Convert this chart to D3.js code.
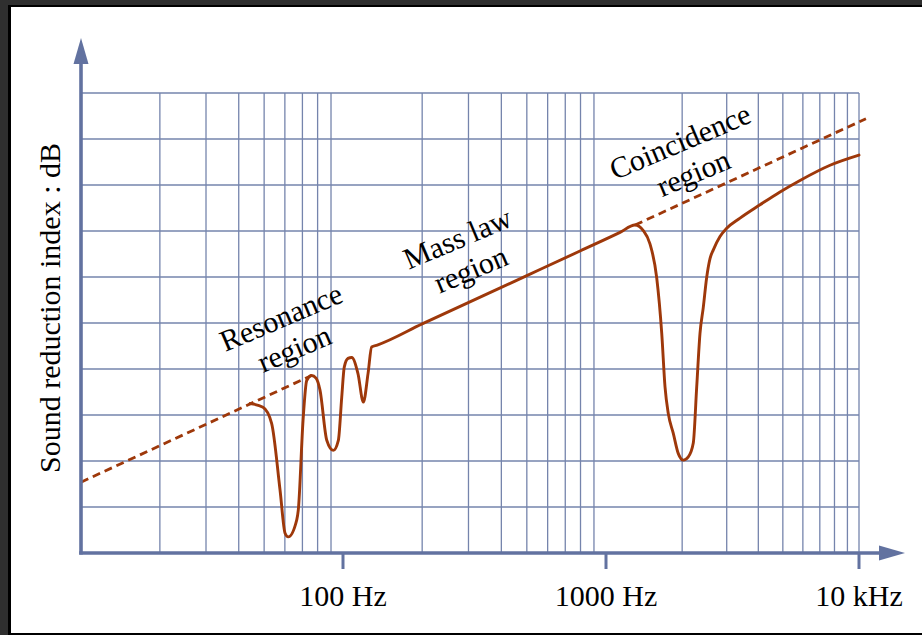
<!DOCTYPE html>
<html>
<head>
<meta charset="utf-8">
<script src="https://cdn.jsdelivr.net/npm/d3@7"></script>
<style>
  html, body { margin: 0; padding: 0; background: #2f2f2f; }
  svg { display: block; }
</style>
</head>
<body>
<svg id="chart" width="922" height="635"></svg>
<script>
// Mass law reference line (frequency in Hz, level in grid units)
const lowDashFreq = [10, 75.9];
const lowDashLevel = [1.54, 3.86];
const highDashFreq = [1302, 10650];
const highDashLevel = [7.13, 9.44];

// Measured sound reduction curve
const curveFreq = [
  44.2, 49.5, 53.4, 57.5, 60.1, 61.8, 66.6, 67.5, 70.4, 72.7, 75.9, 78.9, 81.7,
  86.7, 91.8, 96.0, 98.9, 101.1, 104.5, 107.9, 114, 119.5, 124.5, 128.5, 135,
  200, 500, 800, 1136, 1302, 1404, 1492, 1586, 1661, 1711, 1763, 1845, 1931,
  2021, 2115, 2213, 2283, 2352, 2424, 2500, 2577, 2656, 2822, 3000, 3386, 4062,
  4873, 5846, 7683, 10000
];
const curveLevel = [
  3.25, 3.17, 2.82, 1.37, 0.43, 0.35, 0.72, 0.93, 2.89, 3.75, 3.86, 3.80, 3.54,
  2.45, 2.23, 2.45, 3.39, 4.04, 4.23, 4.25, 3.90, 3.28, 3.90, 4.48, 4.52,
  4.98, 6.03, 6.57, 6.97, 7.13, 7.01, 6.72, 5.99, 4.77, 3.61, 3.03, 2.60, 2.16,
  2.02, 2.09, 2.39, 3.61, 4.77, 5.34, 5.99, 6.40, 6.59, 6.88, 7.06, 7.28, 7.57,
  7.85, 8.10, 8.43, 8.65
];

// Axis ticks and grid
const decadeFreqs = [10, 100, 1000, 10000];
const tickFreqs = [100, 1000, 10000];
const tickLabels = ["100 Hz", "1000 Hz", "10 kHz"];
const gridMultipliers = [2, 3, 4, 5, 6, 7, 8, 9];
const gridLevels = [1, 2, 3, 4, 5, 6, 7, 8, 9, 10];

// Region annotations
const regionNames = [["Resonance", "region"], ["Mass law", "region"], ["Coincidence", "region"]];
const regionFreq = [60.1, 282, 2033];
const regionLevel = [4.92, 6.64, 8.74];

const svg = d3.select("#chart");
const W = 922, H = 635;

const x = d3.scaleLog().domain(decadeFreqs).range([81, 343, 606, 859]);
const y = d3.scaleLinear().domain([0, 10]).range([553, 93]);

const axisColor = "#6272a0";
const gridColor = "#7584ac";
const curveColor = "#9e380a";
const font = "'Liberation Serif', 'Times New Roman', serif";
const fontSize = 30;

// Page frame
svg.append("rect").attr("width", W).attr("height", H).attr("fill", "#2f2f2f");
svg.append("rect").attr("x", 8).attr("y", 5).attr("width", W - 8).attr("height", H - 5).attr("fill", "#000");
svg.append("rect").attr("x", 11).attr("y", 7).attr("width", W - 11).attr("height", 626).attr("fill", "#fff");

// Grid
const gridFreqs = [];
decadeFreqs.slice(0, 3).forEach(d => gridMultipliers.forEach(m => gridFreqs.push(d * m)));
gridFreqs.push(10000);

const grid = svg.append("g").attr("stroke", gridColor).attr("stroke-width", 1.3).attr("fill", "none");
grid.selectAll("line.v").data(gridFreqs).join("line")
  .attr("class", "v")
  .attr("x1", d => x(d)).attr("x2", d => x(d))
  .attr("y1", y(10)).attr("y2", y(0));
grid.selectAll("line.h").data(gridLevels).join("line")
  .attr("class", "h")
  .attr("x1", x(10)).attr("x2", x(10000))
  .attr("y1", d => y(d)).attr("y2", d => y(d));

// Mass law dashed segments
const line = d3.line().x(d => x(d[0])).y(d => y(d[1]));
[[lowDashFreq, lowDashLevel], [highDashFreq, highDashLevel]].forEach(([f, l]) => {
  svg.append("path")
    .attr("d", line(d3.zip(f, l)))
    .attr("fill", "none")
    .attr("stroke", curveColor)
    .attr("stroke-width", 2.8)
    .attr("stroke-dasharray", "8,5");
});

// Measured curve
const curveLine = d3.line().x(d => x(d[0])).y(d => y(d[1])).curve(d3.curveMonotoneX);
svg.append("path")
  .attr("d", curveLine(d3.zip(curveFreq, curveLevel)))
  .attr("fill", "none")
  .attr("stroke", curveColor)
  .attr("stroke-width", 2.9)
  .attr("stroke-linejoin", "round")
  .attr("stroke-linecap", "round");

// Axes with arrows
const x0 = x(10), yAxis = y(0);
svg.append("line").attr("x1", x0).attr("x2", x0).attr("y1", yAxis + 1.5).attr("y2", 60)
  .attr("stroke", axisColor).attr("stroke-width", 3.6);
svg.append("line").attr("x1", x0 - 1.8).attr("x2", 882).attr("y1", yAxis).attr("y2", yAxis)
  .attr("stroke", axisColor).attr("stroke-width", 3.6);
svg.append("path").attr("d", `M${x0},38 L${x0 - 7.5},64 L${x0 + 7.5},64 Z`).attr("fill", axisColor);
svg.append("path").attr("d", `M905,${yAxis} L879,${yAxis - 7.5} L879,${yAxis + 7.5} Z`).attr("fill", axisColor);

// Tick marks and labels
svg.selectAll("line.tick").data(tickFreqs).join("line")
  .attr("class", "tick")
  .attr("x1", d => x(d)).attr("x2", d => x(d))
  .attr("y1", yAxis).attr("y2", yAxis + 16)
  .attr("stroke", axisColor).attr("stroke-width", 3);
svg.selectAll("text.tick").data(tickFreqs).join("text")
  .attr("class", "tick")
  .attr("x", d => x(d)).attr("y", 606)
  .attr("text-anchor", "middle")
  .attr("font-family", font).attr("font-size", fontSize)
  .attr("fill", "#000")
  .text((d, i) => tickLabels[i]);

// Y axis title
svg.append("text")
  .attr("transform", "translate(60,308) rotate(-90)")
  .attr("text-anchor", "middle")
  .attr("font-family", font).attr("font-size", fontSize)
  .attr("fill", "#000")
  .text("Sound reduction index : dB");

// Region labels, rotated along the mass law slope
const angle = -23;
regionNames.forEach((lines, i) => {
  const g = svg.append("g")
    .attr("transform", `translate(${x(regionFreq[i])},${y(regionLevel[i])}) rotate(${angle})`);
  lines.forEach((t, j) => {
    g.append("text")
      .attr("x", 0).attr("y", j * 34)
      .attr("text-anchor", "middle")
      .attr("font-family", font).attr("font-size", fontSize)
      .attr("fill", "#000")
      .text(t);
  });
});
</script>
</body>
</html>
